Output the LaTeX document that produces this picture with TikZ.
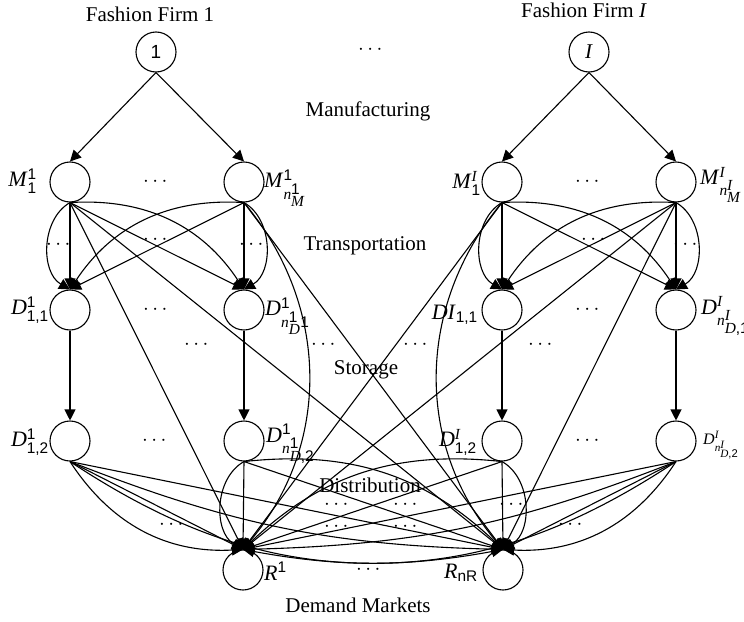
\documentclass[tikz,border=0pt]{standalone}
\usepackage{amsmath}
\usepackage{fontspec}
\setmainfont{Liberation Serif}
\setsansfont{Liberation Sans}
\usetikzlibrary{arrows.meta}
\newcommand{\lab}[3]{\textit{#1}$^{#2}_{#3}$}
\newcommand{\nsub}[2]{\textit{n}^{\scriptstyle #1}_{\scriptstyle #2}}
\begin{document}
\begin{tikzpicture}[x=1pt,y=-1pt,
  nd/.style={circle, draw, line width=1.1pt, minimum size=40pt, inner sep=0pt},
  ar/.style={-{Triangle[length=11pt,width=11pt]}, line width=1.1pt},
  txt/.style={font=\fontsize{21}{24}\selectfont, inner sep=0pt},
  lbl/.style={font=\fontsize{22}{24}\selectfont, inner sep=0pt},
  sml/.style={font=\fontsize{16}{18}\selectfont, inner sep=0pt},
  dts/.style={font=\fontsize{22}{24}\selectfont, inner sep=0pt}
]
\useasboundingbox (0,0) rectangle (744,621);

% firms
\node[nd, font=\fontsize{19}{20}\selectfont\sffamily] (F1) at (156,52) {1};
\node[nd, font=\fontsize{21}{22}\selectfont] (FI) at (589,52) {\textit{I}};
\node[txt] (t1) at (150,14) {Fashion Firm 1};
\node[txt] (t2) at (584,10) {Fashion Firm \textit{I}};
\node[dts] (d0) at (372,50) {$\cdots$};

% layer names
\node[txt] (L1) at (368,111) {Manufacturing};
\node[txt] (L2) at (365,246) {Transportation};
\node[txt] (L3) at (366,370) {Storage};
\node[txt] (L4) at (370,485) {Distribution};
\node[txt] (L5) at (358,605) {Demand Markets};

% manufacturers
\node[nd] (Ma) at (70,182) {};
\node[nd] (Mb) at (244,182) {};
\node[nd] (Mc) at (502,182) {};
\node[nd] (Md) at (676,182) {};
% distribution centres
\node[nd] (Da) at (70,310) {};
\node[nd] (Db) at (244,310) {};
\node[nd] (Dc) at (502,310) {};
\node[nd] (Dd) at (676,310) {};
\node[nd] (Ea) at (70,441) {};
\node[nd] (Eb) at (244,441) {};
\node[nd] (Ec) at (502,441) {};
\node[nd] (Ed) at (676,441) {};
% demand markets
\node[nd] (R1) at (243,570) {};
\node[nd] (R2) at (503,570) {};

% node labels
\node[lbl, anchor=east] (lMa) at (37,181) {\lab{M}{\textsf{1}}{\textsf{1}}};
\node[lbl, anchor=west] (lMb) at (264,188) {\lab{M}{\textsf{1}}{\nsub{\textsf{1}}{\textit{M}}}};
\node[lbl, anchor=east] (lMc) at (481,183) {\lab{M}{\textit{I}}{\textsf{1}}};
\node[lbl, anchor=west] (lMd) at (700,185) {\lab{M}{\textit{I}}{\nsub{\textit{I}}{\textit{M}}}};
\node[lbl, anchor=east] (lDa) at (49,310) {\lab{D}{\textsf{1}}{\textsf{1,1}}};
\node[lbl, anchor=west] (lDb) at (265,316) {\lab{D}{\textsf{1}}{\nsub{\textsf{1}}{\textit{D}}\textsf{1}}};
\node[lbl, anchor=east] (lDc) at (478,315) {\textit{DI}$_{\textsf{1,1}}$};
\node[lbl, anchor=west] (lDd) at (701,316) {\lab{D}{\textit{I}}{\nsub{\textit{I}}{\textit{D}\textsf{,1}}}};
\node[lbl, anchor=east] (lEa) at (49,442) {\lab{D}{\textsf{1}}{\textsf{1,2}}};
\node[lbl, anchor=west] (lEb) at (266,444) {\lab{D}{\textsf{1}}{\nsub{\textsf{1}}{\textit{D}\textsf{,2}}}};
\node[lbl, anchor=east] (lEc) at (477,442) {\lab{D}{\textit{I}}{\textsf{1,2}}};
\node[sml, anchor=west] (lEd) at (703,445) {\lab{D}{\textit{I}}{\nsub{\textit{I}}{\textit{D}\textsf{,2}}}};
\node[lbl, anchor=west] (lR1) at (264,571) {\textit{R}$^{\textsf{1}}$};
\node[lbl, anchor=east] (lR2) at (478,573) {\textit{R}$_{\textsf{nR}}$};

% dots between nodes
\node[dts] (e1) at (157,182) {$\cdots$};
\node[dts] (e2) at (589,182) {$\cdots$};
\node[dts] (e3) at (157,310) {$\cdots$};
\node[dts] (e4) at (589,310) {$\cdots$};
\node[dts] (e5) at (156,441) {$\cdots$};
\node[dts] (e6) at (589,441) {$\cdots$};
\node[dts] (e7) at (370,570) {$\cdots$};
% dots among connectors
\node[dts] (f1) at (60,245) {$\cdots$};
\node[dts] (f2) at (157,240) {$\cdots$};
\node[dts] (f3) at (253,245) {$\cdots$};
\node[dts] (f4) at (595,240) {$\cdots$};
\node[dts] (f5) at (687,245) {$\cdots$};
\node[dts] (g1) at (198,345) {$\cdots$};
\node[dts] (g2) at (325,345) {$\cdots$};
\node[dts] (g3) at (417,345) {$\cdots$};
\node[dts] (g4) at (542,345) {$\cdots$};
\node[dts] (h1) at (173,525) {$\cdots$};
\node[dts] (h2) at (338,505) {$\cdots$};
\node[dts] (h3) at (338,527) {$\cdots$};
\node[dts] (h4) at (407,505) {$\cdots$};
\node[dts] (h5) at (407,527) {$\cdots$};
\node[dts] (h6) at (513,505) {$\cdots$};
\node[dts] (h7) at (572,525) {$\cdots$};

% manufacturing
\draw[ar] (F1.south) -- (Ma.north);
\draw[ar] (F1.south) -- (Mb.north);
\draw[ar] (FI.south) -- (Mc.north);
\draw[ar] (FI.south) -- (Md.north);

% transportation, firm 1
\draw[ar] (Ma.south) -- (Da.north);
\draw[ar] (Ma.south) to[bend right=60] (Da.north);
\draw[ar] (Ma.south) -- (Db.north);
\draw[ar] (Ma.south) to[bend left=30] (Db.north);
\draw[ar] (Mb.south) -- (Db.north);
\draw[ar] (Mb.south) to[bend left=60] (Db.north);
\draw[ar] (Mb.south) -- (Da.north);
\draw[ar] (Mb.south) to[bend right=30] (Da.north);
% transportation, firm I
\draw[ar] (Mc.south) -- (Dc.north);
\draw[ar] (Mc.south) to[bend right=60] (Dc.north);
\draw[ar] (Mc.south) -- (Dd.north);
\draw[ar] (Mc.south) to[bend left=30] (Dd.north);
\draw[ar] (Md.south) -- (Dd.north);
\draw[ar] (Md.south) to[bend left=60] (Dd.north);
\draw[ar] (Md.south) -- (Dc.north);
\draw[ar] (Md.south) to[bend right=30] (Dc.north);

% direct shipments manufacturer -> demand market
\draw[ar] (Ma.south) -- (R1.north);
\draw[ar] (Ma.south) -- (R2.north);
\draw[ar] (Mb.south) to[bend left=40] (R1.north);
\draw[ar] (Mb.south) -- (R2.north);
\draw[ar] (Mc.south) -- (R1.north);
\draw[ar] (Mc.south) to[bend right=40] (R2.north);
\draw[ar] (Md.south) -- (R1.north);
\draw[ar] (Md.south) -- (R2.north);

% storage
\draw[ar] (Da.south) -- (Ea.north);
\draw[ar] (Db.south) -- (Eb.north);
\draw[ar] (Dc.south) -- (Ec.north);
\draw[ar] (Dd.south) -- (Ed.north);

% distribution
\draw[ar] (Ea.south) -- (R1.north);
\draw[ar] (Ea.south) to[bend right=30] (R1.north);
\draw[ar] (Ea.south) -- (R2.north);
\draw[ar] (Ea.south) to[bend right=10] (R2.north);
\draw[ar] (Ea.south) to[bend right=22] (R2.north);
\draw[ar] (Eb.south) -- (R1.north);
\draw[ar] (Eb.south) to[bend right=60] (R1.north);
\draw[ar] (Eb.south) -- (R2.north);
\draw[ar] (Eb.south) to[bend left=25] (R2.north);
\draw[ar] (Ec.south) -- (R2.north);
\draw[ar] (Ec.south) to[bend left=60] (R2.north);
\draw[ar] (Ec.south) -- (R1.north);
\draw[ar] (Ec.south) to[bend right=25] (R1.north);
\draw[ar] (Ed.south) -- (R2.north);
\draw[ar] (Ed.south) to[bend left=30] (R2.north);
\draw[ar] (Ed.south) -- (R1.north);
\draw[ar] (Ed.south) to[bend left=10] (R1.north);
\draw[ar] (Ed.south) to[bend left=22] (R1.north);
\end{tikzpicture}
\end{document}
